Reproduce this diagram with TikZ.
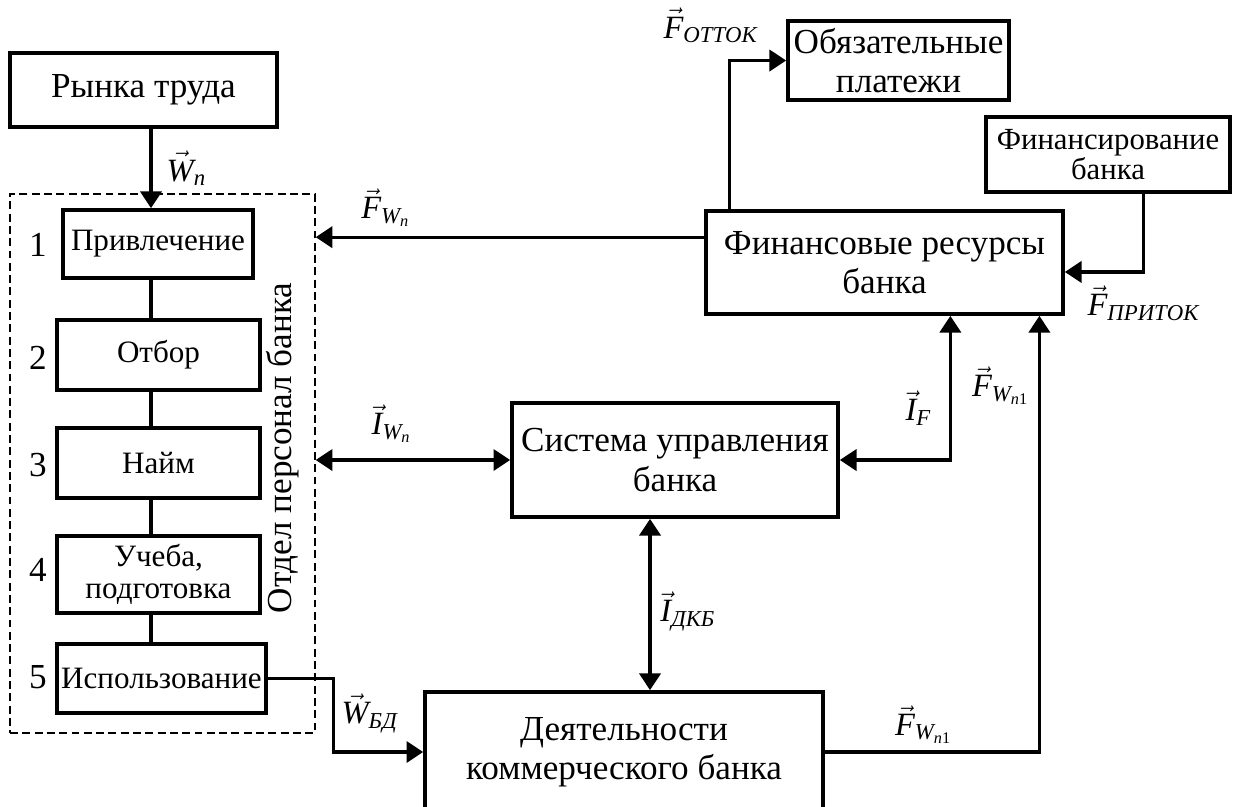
\documentclass[tikz,border=0pt]{standalone}
\usepackage{amsmath}
\usepackage{fontspec}
\setmainfont{Liberation Serif}
\usepackage{tikz}
\usetikzlibrary{arrows.meta,positioning}
\newcommand{\bigf}{\fontsize{20}{22.5}\selectfont}
\newcommand{\smallf}{\fontsize{17.7}{18.5}\selectfont}
\newcommand{\lblf}{\fontsize{18.5}{19}\selectfont}
\newcommand{\vecit}[1]{\vec{\textit{#1}}}

\begin{document}
\begin{tikzpicture}
	[x=0.02cm, y=-0.02cm, inner sep=0pt,
	block/.style	= {rectangle, draw, line width=2.1pt, align=center, font=\bigf},
	stage/.style	= {rectangle, draw, line width=2.1pt, align=center, font=\smallf},
	dept/.style		= {rectangle, draw, line width=0.8pt, dash pattern=on 4.5pt off 2.5pt},
	num/.style		= {font=\bigf},
	lbl/.style		= {font=\lblf, inner sep=1pt},
	line/.style		= {line width=1.9pt},
	paths/.style	= {->, >={Triangle[length=9.5pt, width=12pt]}, line width=1.9pt},
	twoway/.style	= {<->, >={Triangle[length=9.5pt, width=12pt]}, line width=1.9pt}]
	
	\useasboundingbox (0, 0) rectangle (1234, 806);
	\clip (0, 0) rectangle (1234, 806);
	
	\node at (143.5, 90)	[block, minimum width=5.34cm, minimum height=1.48cm]	(rynok)		{Рынка труда};
	\node at (162.5, 463.5)	[dept, minimum width=6.1cm, minimum height=10.78cm]		(otdel)		{};
	\node at (283, 448)		[num, rotate=90]										(otdellbl)	{Отдел персонал банка};
	\node at (158, 244)		[stage, minimum width=3.8cm, minimum height=1.36cm]		(priv)		{Привлечение};
	\node at (158.5, 355)	[stage, minimum width=4.06cm, minimum height=1.4cm]		(otbor)		{Отбор};
	\node at (158.5, 463)	[stage, minimum width=4.06cm, minimum height=1.4cm]		(naim)		{Найм};
	\node at (158.5, 574.5)	[stage, minimum width=4.06cm, minimum height=1.54cm]	(ucheba)	{Учеба,\\подготовка};
	\node at (161.5, 678.5)	[stage, minimum width=4.18cm, minimum height=1.38cm]	(ispolz)	{Использование};
	\foreach \i/\y in {1/245, 2/358, 3/465, 4/570, 5/677}
		\node at (38, \y) [num] (num\i) {\i};
	
	\node at (884.5, 262.5)	[block, minimum width=7.14cm, minimum height=2.06cm]	(fin)		{Финансовые ресурсы\\банка};
	\node at (898.5, 60.5)	[block, minimum width=4.42cm, minimum height=1.58cm]	(oblig)		{Обязательные\\платежи};
	\node at (1108, 154.5)	[stage, font=\fontsize{17.5}{17}\selectfont, minimum width=4.88cm, minimum height=1.5cm]	(finans)	{Финансирование\\банка};
	\node at (675, 460)		[block, minimum width=6.52cm, minimum height=2.28cm]	(sys)		{Система управления\\банка};
	\node at (624, 752)		[block, minimum width=7.96cm, minimum height=2.4cm]		(deyat)		{Деятельности\\коммерческого банка};
	
	\coordinate (spine) at (151, 0);
	\draw [paths] (rynok.south -| spine) -- (priv.north -| spine) node [lbl, midway, right=7pt] {$\vecit{W}_{\textit{n}}$};
	\foreach \a/\b in {priv/otbor, otbor/naim, naim/ucheba, ucheba/ispolz}
		\draw [line] (\a.south -| spine) -- (\b.north -| spine);
	
	\draw [paths] (fin.172) -- (fin.172 -| otdel.east) node [lbl, pos=0.82, above=4pt] {$\vecit{F}_{\textit{W}_{\textit{n}}}$};
	\draw [twoway] (sys.west) -- (sys.west -| otdel.east) node [lbl, pos=0.61, above=8pt] {$\vecit{I}_{\textit{W}_{\textit{n}}}$};
	\draw [twoway] (sys.247) -- (sys.247 |- deyat.north) node [lbl, pos=0.54, right=4pt] {$\vecit{I}_{\textit{ДКБ}}$};
	\draw [paths] (ispolz.east) -- ++(66, 0) |- (deyat.west) node [lbl, pos=0.7, above=9pt] {$\vecit{W}_{\textit{БД}}$};
	\draw [twoway] (sys.east) -| (fin.-39) node [lbl, pos=0.68, left=9pt] {$\vecit{I}_{\textit{F}}$};
	\draw [paths] (deyat.east) -| (fin.-19)
		node [lbl, pos=0.23, above=3pt] {$\vecit{F}_{\textit{W}_{\textit{n}\textup{1}}}$}
		node [lbl, pos=0.92, left=4pt] {$\vecit{F}_{\textit{W}_{\textit{n}\textup{1}}}$};
	\draw [paths] (fin.161) |- (oblig.west) node [lbl, pos=0.5, above=8pt, xshift=-0.38cm] {$\vecit{F}_{\textit{ОТТОК}}$};
	\draw [paths] (finans.-48) |- (fin.-3) node [lbl, pos=0.5, below=6pt] {$\vecit{F}_{\textit{ПРИТОК}}$};
	
\end{tikzpicture}
\end{document}
